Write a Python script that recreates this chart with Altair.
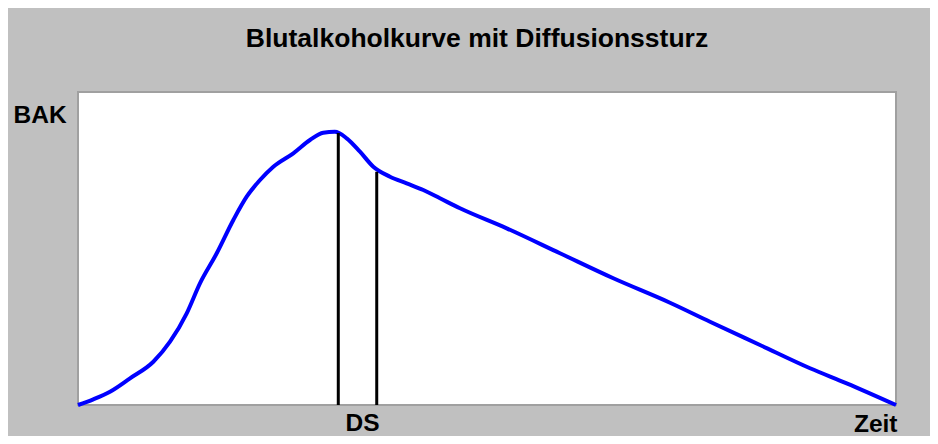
import altair as alt
import pandas as pd

# Blood alcohol curve (arbitrary units: time 0-100, BAK 0-100)
zeit = [0.0, 1.87, 3.91, 6.36, 9.21, 11.25, 13.29, 14.91, 16.96, 18.99, 20.62, 22.25,
        23.88, 26.32, 28.36, 29.99, 31.4, 32.85, 34.47, 36.10, 38.14, 40.18, 42.21,
        44.25, 46.70, 52.41, 58.92, 65.44, 72.37, 77.26, 83.37, 89.49, 93.97, 100.0]
bak = [0.0, 1.82, 4.25, 8.53, 13.83, 20.22, 29.30, 38.88, 48.47, 59.11, 66.55, 71.88,
       76.13, 80.42, 84.66, 87.0, 87.3, 85.21, 80.93, 76.13, 72.94, 70.83, 68.69,
       66.04, 62.84, 56.45, 48.47, 40.48, 32.68, 26.61, 19.17, 11.73, 6.93, 0.0]

# Diffusion drop markers (start and end)
ds_zeit = [31.82, 36.52]
ds_bak_top = [86.9, 74.5]
ds_label_pos = [34.72]

curve = pd.DataFrame({"zeit": zeit, "bak": bak})
markers = pd.DataFrame({"zeit": ds_zeit, "top": ds_bak_top, "bottom": [0, 0]})

FONT = "Liberation Sans"

x_scale = alt.Scale(domain=[0, 100], nice=False, zero=False)
y_scale = alt.Scale(domain=[0, 100], nice=False)

line = alt.Chart(curve).mark_line(color="#0000FF", strokeWidth=4, interpolate="monotone").encode(
    x=alt.X("zeit:Q", scale=x_scale,
            axis=alt.Axis(values=ds_label_pos, labelExpr="'DS'", domain=False, ticks=False,
                          tickSize=0, grid=False, labelFont=FONT, labelFontSize=24.5,
                          labelFontWeight="bold", labelColor="black", labelBaseline="alphabetic",
                          labelPadding=25, labelFlush=False,
                          title="Zeit", titleFont=FONT, titleFontSize=24.5, titleFontWeight="bold",
                          titleColor="black", titleAlign="right", titleBaseline="alphabetic",
                          titleX=819, titleY=26.5, titleAnchor="end")),
    y=alt.Y("bak:Q", scale=y_scale,
            axis=alt.Axis(domain=False, ticks=False, labels=False, grid=False,
                          title="BAK", titleFont=FONT, titleFontSize=24.5, titleFontWeight="bold",
                          titleColor="black", titleAngle=0, titleAlign="left",
                          titleBaseline="alphabetic", titleX=-65, titleY=30)),
)

rules = alt.Chart(markers).mark_rule(color="black", strokeWidth=3).encode(
    x=alt.X("zeit:Q", scale=x_scale),
    y=alt.Y("bottom:Q", scale=y_scale),
    y2="top:Q",
)

chart = alt.layer(line, rules).properties(
    width=818,
    height=313,
    autosize=alt.AutoSizeParams(type="none"),
    padding={"left": 70, "top": 84, "right": 34, "bottom": 31},
    background="#C0C0C0",
    title=alt.TitleParams(
        "Blutalkoholkurve mit Diffusionssturz",
        font=FONT, fontSize=26.5, fontWeight="bold", color="black",
        anchor="middle", dx=-10, offset=40,
    ),
).configure_view(
    stroke="#A0A0A0", strokeWidth=2, fill="white"
)

chart.save("out.html", embed_options={"renderer": "svg", "actions": False})
